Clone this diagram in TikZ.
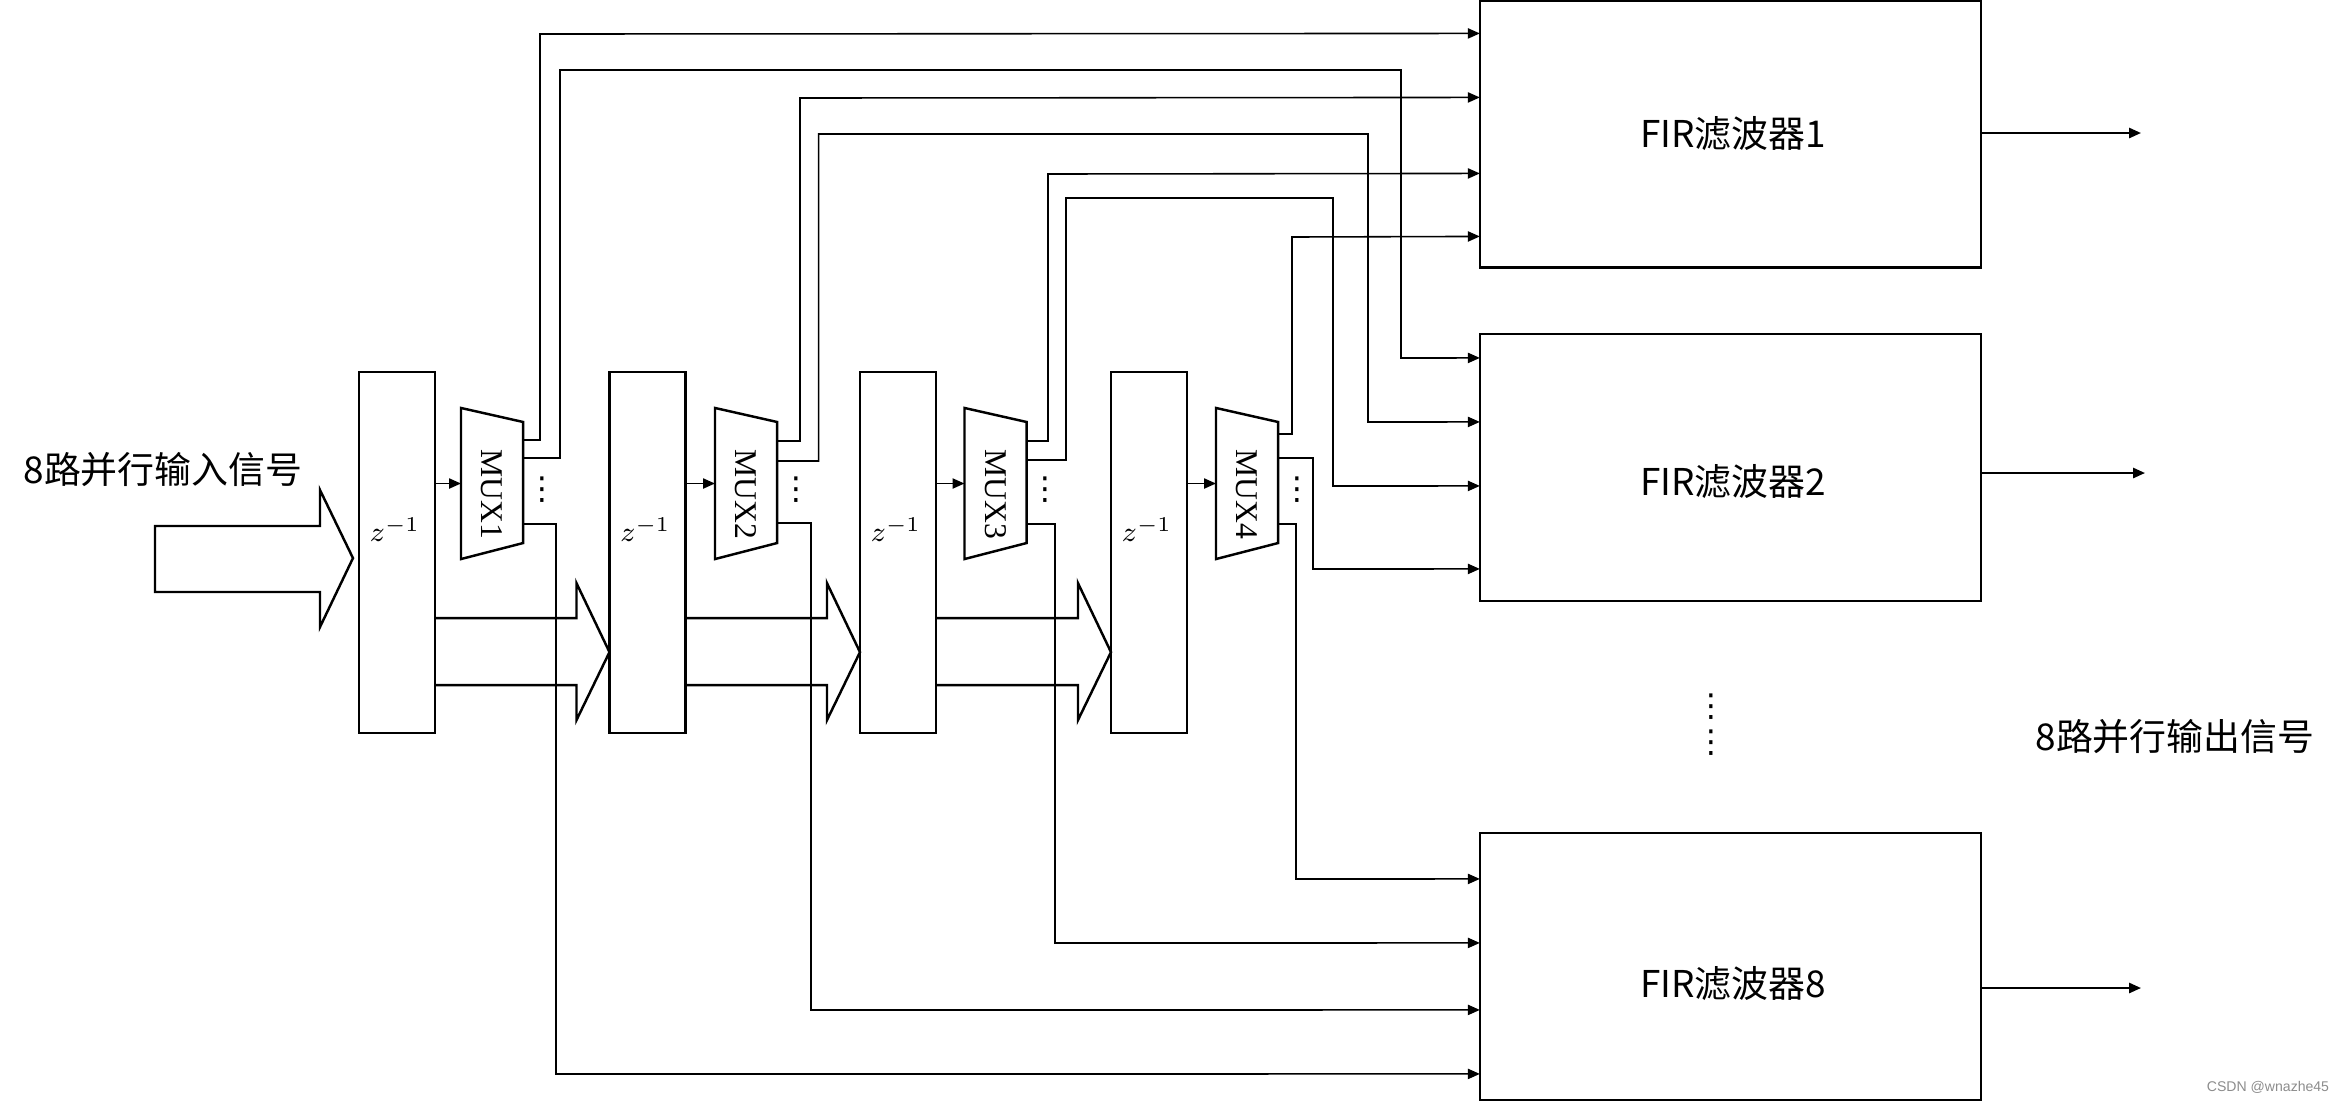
\documentclass[tikz,border=0pt]{standalone}
\usepackage{fontspec}
\usepackage{graphicx}
\newfontfamily\cjk{Noto Sans CJK SC}
\newfontfamily\tnr{Liberation Serif}
\newfontfamily\lsans{Liberation Sans}
\newfontfamily\djv{DejaVu Sans}
\usetikzlibrary{calc,arrows.meta}
\begin{document}
\begin{tikzpicture}[x=0.01cm,y=-0.01cm,
  dbox/.style={draw,line width=0.7pt,minimum width=0.76cm,minimum height=3.61cm,inner sep=0pt,outer sep=0pt},
  firbox/.style={draw,line width=0.7pt,minimum width=5.01cm,minimum height=2.67cm,inner sep=0pt,outer sep=0pt},
  muxnode/.style={minimum width=0.62cm,minimum height=1.51cm,inner sep=0pt,outer sep=0pt},
  wire/.style={line width=0.45pt},
  arr/.style={wire,-{Triangle[length=3.4pt,width=2.9pt]}},
  hollow/.style={line width=0.7pt,line join=miter},
  lbl/.style={font=\cjk\fontsize{10.5}{12}\selectfont,inner sep=0pt},
  zlbl/.style={font=\fontsize{8}{10}\selectfont,inner sep=0pt},
  muxlbl/.style={font=\tnr\fontsize{9}{10}\selectfont,inner sep=0pt,rotate=-90},
  dotlbl/.style={font=\djv\fontsize{9}{10}\selectfont,inner sep=0pt}
]
\useasboundingbox (0,0) rectangle (2341,1102);

% delay boxes
\node[dbox] (b1) at (397,552.5) {};
\node[dbox] (b2) at (647.5,552.5) {};
\node[dbox] (b3) at (898,552.5) {};
\node[dbox] (b4) at (1149,552.5) {};
\foreach \b/\n in {b1/1,b2/2,b3/3,b4/4}
  \node[zlbl] (z\n) at ($(\b.center)+(-2,-23)$) {$z^{-1}$};

% MUX nodes
\node[muxnode] (m1) at (492,483.5) {};
\node[muxnode] (m2) at (746,483.5) {};
\node[muxnode] (m3) at (995.5,483.5) {};
\node[muxnode] (m4) at (1247,483.5) {};
\foreach \m/\n in {m1/1,m2/2,m3/3,m4/4}{
  \draw[hollow] (\m.north west) -- ($(\m.north east)+(0,14)$) -- ($(\m.south east)+(0,-16)$) -- (\m.south west) -- cycle;
  \node[muxlbl] (\m t) at ($(\m.center)+(0,10.5)$) {MUX\n};
  \node[dotlbl] (\m d) at ($(\m.east)+(19,6)$) {⋮};
}

% FIR boxes
\node[firbox] (f1) at (1730.5,134) {};
\node[firbox] (f2) at (1730.5,467.5) {};
\node[firbox] (f8) at (1730.5,966.5) {};
\node[lbl] (f1t) at (1733,134) {FIR滤波器1};
\node[lbl] (f2t) at (1733,482) {FIR滤波器2};
\node[lbl] (f8t) at (1733,984) {FIR滤波器8};

% input / output texts
\node[lbl] (intext) at (163,470) {8路并行输入信号};
\node[lbl] (outtext) at (2175,737) {8路并行输出信号};
\node[dotlbl] (vd1) at (1711,707) {⋮};
\node[dotlbl] (vd2) at (1711,743) {⋮};
\node[font=\lsans\fontsize{4}{5}\selectfont,text=black!45,inner sep=0pt] (wm) at (2268,1087) {CSDN @wnazhe45};

% hollow arrows
\draw[hollow] (155,526) -- (320,526) -- (320,490) -- ($(b1.south west)+(-6,-175)$) -- (320,627) -- (320,592) -- (155,592) -- cycle;
\foreach \a/\b in {b1/b2,b2/b3,b3/b4}
  \draw[hollow] ($(\a.south east)+(0,-115)$) -- ($(\b.south west)+(-33,-115)$) -- ($(\b.south west)+(-33,-150)$) -- ($(\b.south west)+(0,-81)$) -- ($(\b.south west)+(-33,-13)$) -- ($(\b.south west)+(-33,-48)$) -- ($(\a.south east)+(0,-48)$);

% delay -> mux
\foreach \b/\m in {b1/m1,b2/m2,b3/m3,b4/m4}
  \draw[arr] (\b.east |- \m.west) -- (\m.west);

% MUX1 outputs
\draw[arr] ($(m1.east)+(0,-43.5)$) -| (540,34) -- ($(f1.north west)+(0,33)$);
\draw[arr] ($(m1.east)+(0,-25.5)$) -| (560,70) -| (1401,358) -- ($(f2.north west)+(0,24)$);
\draw[arr] ($(m1.east)+(0,40.5)$) -| (556,1074) -- ($(f8.north west)+(0,241)$);
% MUX2 outputs
\draw[arr] ($(m2.east)+(0,-42.5)$) -| (800,98) -- ($(f1.north west)+(0,97)$);
\draw[arr] ($(m2.east)+(0,-22.5)$) -| (818.6,134) -| (1368,422) -- ($(f2.north west)+(0,88)$);
\draw[arr] ($(m2.east)+(0,39.5)$) -| (811,1010) -- ($(f8.north west)+(0,177)$);
% MUX3 outputs
\draw[arr] ($(m3.east)+(0,-42.5)$) -| (1048,174) -- ($(f1.north west)+(0,173)$);
\draw[arr] ($(m3.east)+(0,-23.5)$) -| (1066,198) -| (1333,486) -- ($(f2.north west)+(0,152)$);
\draw[arr] ($(m3.east)+(0,40.5)$) -| (1055,943) -- ($(f8.north west)+(0,110)$);
% MUX4 outputs
\draw[arr] ($(m4.east)+(0,-49.5)$) -| (1292,237) -- ($(f1.north west)+(0,236)$);
\draw[arr] ($(m4.east)+(0,-25.5)$) -| (1313,569) -- ($(f2.north west)+(0,235)$);
\draw[arr] ($(m4.east)+(0,40.5)$) -| (1296,879) -- ($(f8.north west)+(0,46)$);

% FIR outputs
\coordinate (o1) at (2141,133);
\coordinate (o2) at (2145,473);
\coordinate (o8) at (2141,988);
\draw[arr,line width=0.6pt] (f1.east |- o1) -- (o1);
\draw[arr,line width=0.6pt] (f2.east |- o2) -- (o2);
\draw[arr,line width=0.6pt] (f8.east |- o8) -- (o8);
\end{tikzpicture}
\end{document}
